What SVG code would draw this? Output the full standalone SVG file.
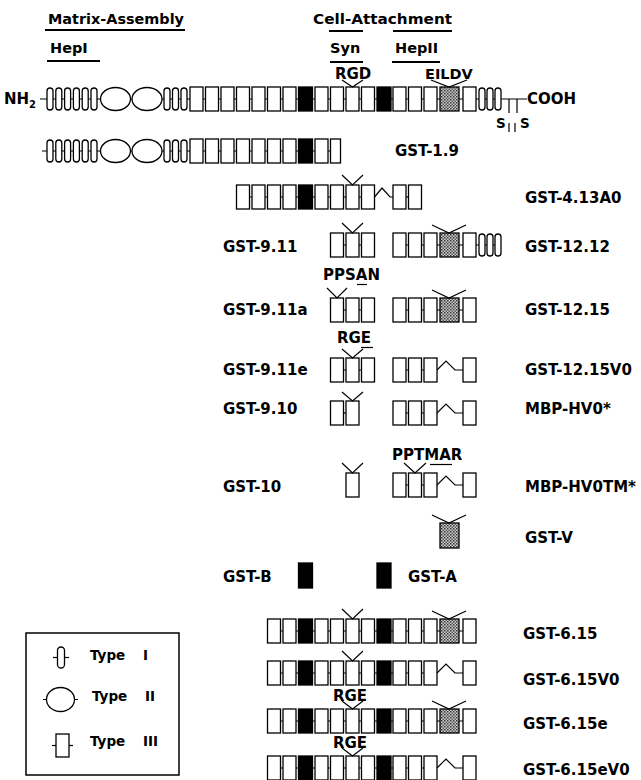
<svg xmlns="http://www.w3.org/2000/svg" width="641" height="780" viewBox="0 0 641 780">
<defs>
<pattern id="dots" width="3" height="3" patternUnits="userSpaceOnUse"><rect width="3" height="3" fill="#cfcfcf"/><rect width="1.5" height="1.5" fill="#333"/><rect x="1.5" y="1.5" width="1.5" height="1.5" fill="#555"/></pattern>
</defs>
<style>
.b{fill:#fff;stroke:#000;stroke-width:1.3}
.k{fill:#000;stroke:#000;stroke-width:1.3}
.g{fill:url(#dots);stroke:#000;stroke-width:1.3}
.ln{fill:none;stroke:#000;stroke-width:1.2}
.ul{fill:none;stroke:#000;stroke-width:2}
.t{font-family:"DejaVu Sans","Liberation Sans",sans-serif;font-weight:bold;font-size:15px;fill:#000}
.h{font-size:14.5px}
.s{font-size:13.5px}
</style>
<rect width="641" height="780" fill="#fff"/>

<g id="headers">
<text class="t h" x="48" y="24" textLength="136" lengthAdjust="spacingAndGlyphs">Matrix-Assembly</text>
<line class="ul" x1="45" y1="30" x2="185" y2="30"/>
<text class="t h" x="50" y="53">HepI</text>
<line class="ul" x1="47" y1="61" x2="100" y2="61"/>
<text class="t h" x="313" y="24" textLength="139" lengthAdjust="spacingAndGlyphs">Cell-Attachment</text>
<line class="ul" x1="329" y1="31" x2="363" y2="31"/>
<line class="ul" x1="393" y1="31" x2="452" y2="31"/>
<text class="t h" x="330" y="53">Syn</text>
<line class="ul" x1="330" y1="62" x2="363" y2="62"/>
<text class="t h" x="395" y="53">HepII</text>
<line class="ul" x1="392" y1="62" x2="440" y2="62"/>
<text class="t" x="335" y="79">RGD</text>
<text class="t h" x="425" y="79">EILDV</text>
</g>

<g id="fn-full">
<text class="t" x="4" y="104">NH<tspan font-size="10" dy="4">2</tspan></text>
<line class="ln" x1="40" y1="99" x2="527" y2="99"/>
<rect class="b" x="47" y="88" width="6" height="22" rx="3"/>
<rect class="b" x="55.8" y="88" width="6" height="22" rx="3"/>
<rect class="b" x="64.6" y="88" width="6" height="22" rx="3"/>
<rect class="b" x="73.4" y="88" width="6" height="22" rx="3"/>
<rect class="b" x="82.2" y="88" width="6" height="22" rx="3"/>
<rect class="b" x="91" y="88" width="6" height="22" rx="3"/>
<ellipse class="b" cx="115.5" cy="99" rx="15" ry="11.5"/>
<ellipse class="b" cx="147" cy="99" rx="15" ry="11.5"/>
<rect class="b" x="164" y="88" width="6" height="22" rx="3"/>
<rect class="b" x="172.5" y="88" width="6" height="22" rx="3"/>
<rect class="b" x="181" y="88" width="6" height="22" rx="3"/>
<rect class="b" x="190" y="87" width="13" height="24"/>
<rect class="b" x="205.5" y="87" width="13" height="24"/>
<rect class="b" x="221" y="87" width="13" height="24"/>
<rect class="b" x="236.5" y="87" width="13" height="24"/>
<rect class="b" x="252" y="87" width="13" height="24"/>
<rect class="b" x="267.5" y="87" width="13" height="24"/>
<rect class="b" x="283" y="87" width="13" height="24"/>
<rect class="k" x="298.5" y="87" width="14" height="24"/>
<rect class="b" x="315" y="87" width="13" height="24"/>
<rect class="b" x="330.5" y="87" width="13" height="24"/>
<rect class="b" x="346" y="87" width="13" height="24"/>
<rect class="b" x="361.5" y="87" width="13" height="24"/>
<rect class="k" x="377" y="87" width="14" height="24"/>
<rect class="b" x="393" y="87" width="13" height="24"/>
<rect class="b" x="408.5" y="87" width="13" height="24"/>
<rect class="b" x="424" y="87" width="13" height="24"/>
<rect class="g" x="440" y="87" width="19" height="24"/>
<rect class="b" x="463" y="87" width="13" height="24"/>
<rect class="b" x="479" y="88" width="6" height="22" rx="3"/>
<rect class="b" x="487" y="88" width="6" height="22" rx="3"/>
<rect class="b" x="495" y="88" width="6" height="22" rx="3"/>
<line class="ln" x1="509" y1="99" x2="509" y2="113"/>
<line class="ln" x1="517" y1="99" x2="517" y2="113"/>
<line class="ln" x1="509" y1="123" x2="509" y2="132"/>
<line class="ln" x1="515" y1="123" x2="515" y2="132"/>
<text class="t s" x="496" y="128">S</text>
<text class="t s" x="520" y="128">S</text>
<text class="t" x="527" y="104">COOH</text>
<polyline class="ln" points="342,80 352.5,87 363,80"/>
<polyline class="ln" points="431,80 449,87 467,80"/>
</g>

<g id="gst-1-9">
<line class="ln" x1="42" y1="151" x2="340" y2="151"/>
<rect class="b" x="47" y="140" width="6" height="22" rx="3"/>
<rect class="b" x="55.8" y="140" width="6" height="22" rx="3"/>
<rect class="b" x="64.6" y="140" width="6" height="22" rx="3"/>
<rect class="b" x="73.4" y="140" width="6" height="22" rx="3"/>
<rect class="b" x="82.2" y="140" width="6" height="22" rx="3"/>
<rect class="b" x="91" y="140" width="6" height="22" rx="3"/>
<ellipse class="b" cx="115.5" cy="151" rx="15" ry="11.5"/>
<ellipse class="b" cx="147" cy="151" rx="15" ry="11.5"/>
<rect class="b" x="164" y="140" width="6" height="22" rx="3"/>
<rect class="b" x="172.5" y="140" width="6" height="22" rx="3"/>
<rect class="b" x="181" y="140" width="6" height="22" rx="3"/>
<rect class="b" x="190" y="139" width="13" height="24"/>
<rect class="b" x="205.5" y="139" width="13" height="24"/>
<rect class="b" x="221" y="139" width="13" height="24"/>
<rect class="b" x="236.5" y="139" width="13" height="24"/>
<rect class="b" x="252" y="139" width="13" height="24"/>
<rect class="b" x="267.5" y="139" width="13" height="24"/>
<rect class="b" x="283" y="139" width="13" height="24"/>
<rect class="k" x="298.5" y="139" width="14" height="24"/>
<rect class="b" x="315" y="139" width="13" height="24"/>
<rect class="b" x="330.5" y="139" width="10" height="24"/>
<text class="t" x="395" y="156">GST-1.9</text>
</g>

<g id="gst-4-13a0">
<line class="ln" x1="237" y1="197" x2="375" y2="197"/>
<line class="ln" x1="393" y1="197" x2="421" y2="197"/>
<polyline class="ln" points="374.5,197 382,188 390,197 393,197"/>
<rect class="b" x="236.5" y="185" width="13" height="24"/>
<rect class="b" x="252" y="185" width="13" height="24"/>
<rect class="b" x="267.5" y="185" width="13" height="24"/>
<rect class="b" x="283" y="185" width="13" height="24"/>
<rect class="k" x="298.5" y="185" width="14" height="24"/>
<rect class="b" x="315" y="185" width="13" height="24"/>
<rect class="b" x="330.5" y="185" width="13" height="24"/>
<rect class="b" x="346" y="185" width="13" height="24"/>
<rect class="b" x="361.5" y="185" width="13" height="24"/>
<rect class="b" x="393" y="185" width="13" height="24"/>
<rect class="b" x="408.5" y="185" width="13" height="24"/>
<polyline class="ln" points="342,175 352.5,185 363,175"/>
<text class="t" x="525" y="203">GST-4.13A0</text>
</g>

<g id="gst-9-11">
<line class="ln" x1="331" y1="245" x2="374" y2="245"/>
<rect class="b" x="330.5" y="233" width="13" height="24"/>
<rect class="b" x="346" y="233" width="13" height="24"/>
<rect class="b" x="361.5" y="233" width="13" height="24"/>
<polyline class="ln" points="342,223 352.5,233 363,223"/>
<text class="t" x="223" y="252">GST-9.11</text>
</g>

<g id="gst-12-12">
<line class="ln" x1="393" y1="245" x2="501" y2="245"/>
<rect class="b" x="393" y="233" width="13" height="24"/>
<rect class="b" x="408.5" y="233" width="13" height="24"/>
<rect class="b" x="424" y="233" width="13" height="24"/>
<rect class="g" x="440" y="233" width="19" height="24"/>
<rect class="b" x="463" y="233" width="13" height="24"/>
<rect class="b" x="479" y="234" width="6" height="22" rx="3"/>
<rect class="b" x="487" y="234" width="6" height="22" rx="3"/>
<rect class="b" x="495" y="234" width="6" height="22" rx="3"/>
<polyline class="ln" points="432,225 449,233 466,225"/>
<text class="t" x="525" y="252">GST-12.12</text>
</g>

<g id="gst-9-11a">
<text class="t" x="323" y="280">PPSAN</text>
<line class="ln" x1="357" y1="284.5" x2="367" y2="284.5"/>
<line class="ln" x1="331" y1="310" x2="374" y2="310"/>
<rect class="b" x="330.5" y="298" width="13" height="24"/>
<rect class="b" x="346" y="298" width="13" height="24"/>
<rect class="b" x="361.5" y="298" width="13" height="24"/>
<polyline class="ln" points="327,288 337,298 347,288"/>
<text class="t" x="223" y="315">GST-9.11a</text>
</g>

<g id="gst-12-15">
<line class="ln" x1="393" y1="310" x2="476" y2="310"/>
<rect class="b" x="393" y="298" width="13" height="24"/>
<rect class="b" x="408.5" y="298" width="13" height="24"/>
<rect class="b" x="424" y="298" width="13" height="24"/>
<rect class="g" x="440" y="298" width="19" height="24"/>
<rect class="b" x="463" y="298" width="13" height="24"/>
<polyline class="ln" points="432,290 449,298 466,290"/>
<text class="t" x="525" y="315">GST-12.15</text>
</g>

<g id="gst-9-11e">
<text class="t" x="337" y="343">RGE</text>
<line class="ln" x1="361" y1="347.5" x2="373" y2="347.5"/>
<line class="ln" x1="331" y1="370" x2="374" y2="370"/>
<rect class="b" x="330.5" y="358" width="13" height="24"/>
<rect class="b" x="346" y="358" width="13" height="24"/>
<rect class="b" x="361.5" y="358" width="13" height="24"/>
<polyline class="ln" points="342,349 352.5,358 363,349"/>
<text class="t" x="223" y="375">GST-9.11e</text>
</g>

<g id="gst-12-15v0">
<line class="ln" x1="393" y1="370" x2="437" y2="370"/>
<polyline class="ln" points="437,370 446,361 455,370 463,370"/>
<rect class="b" x="393" y="358" width="13" height="24"/>
<rect class="b" x="408.5" y="358" width="13" height="24"/>
<rect class="b" x="424" y="358" width="13" height="24"/>
<rect class="b" x="463" y="358" width="13" height="24"/>
<text class="t" x="525" y="375">GST-12.15V0</text>
</g>

<g id="gst-9-10">
<line class="ln" x1="331" y1="413" x2="359" y2="413"/>
<rect class="b" x="330.5" y="401" width="13" height="24"/>
<rect class="b" x="346" y="401" width="13" height="24"/>
<polyline class="ln" points="342,392 352.5,401 363,392"/>
<text class="t" x="223" y="414">GST-9.10</text>
</g>

<g id="mbp-hv0">
<line class="ln" x1="393" y1="413" x2="437" y2="413"/>
<polyline class="ln" points="437,413 446,404 455,413 463,413"/>
<rect class="b" x="393" y="401" width="13" height="24"/>
<rect class="b" x="408.5" y="401" width="13" height="24"/>
<rect class="b" x="424" y="401" width="13" height="24"/>
<rect class="b" x="463" y="401" width="13" height="24"/>
<text class="t" x="525" y="414">MBP-HV0*</text>
</g>

<g id="gst-10">
<rect class="b" x="346" y="473" width="13" height="24"/>
<polyline class="ln" points="342,463 352.5,473 363,463"/>
<text class="t" x="223" y="492">GST-10</text>
</g>

<g id="mbp-hv0tm">
<text class="t" x="392" y="460">PPTMAR</text>
<line class="ln" x1="430" y1="464.5" x2="452" y2="464.5"/>
<line class="ln" x1="393" y1="485" x2="437" y2="485"/>
<polyline class="ln" points="437,485 446,476 455,485 463,485"/>
<rect class="b" x="393" y="473" width="13" height="24"/>
<rect class="b" x="408.5" y="473" width="13" height="24"/>
<rect class="b" x="424" y="473" width="13" height="24"/>
<rect class="b" x="463" y="473" width="13" height="24"/>
<polyline class="ln" points="404,463 415,473 426,463"/>
<text class="t" x="525" y="492">MBP-HV0TM*</text>
</g>

<g id="gst-v">
<rect class="g" x="440" y="523" width="19" height="25"/>
<polyline class="ln" points="432,515 449,523 466,515"/>
<text class="t" x="525" y="543">GST-V</text>
</g>

<g id="gst-b">
<rect class="k" x="298.5" y="563" width="14" height="25"/>
<text class="t" x="223" y="582">GST-B</text>
</g>

<g id="gst-a">
<rect class="k" x="377" y="563" width="14" height="25"/>
<text class="t" x="408" y="582">GST-A</text>
</g>

<g id="gst-6-15">
<line class="ln" x1="268" y1="631" x2="476" y2="631"/>
<rect class="b" x="267.5" y="619" width="13" height="24"/>
<rect class="b" x="283" y="619" width="13" height="24"/>
<rect class="k" x="298.5" y="619" width="14" height="24"/>
<rect class="b" x="315" y="619" width="13" height="24"/>
<rect class="b" x="330.5" y="619" width="13" height="24"/>
<rect class="b" x="346" y="619" width="13" height="24"/>
<rect class="b" x="361.5" y="619" width="13" height="24"/>
<rect class="k" x="377" y="619" width="14" height="24"/>
<rect class="b" x="393" y="619" width="13" height="24"/>
<rect class="b" x="408.5" y="619" width="13" height="24"/>
<rect class="b" x="424" y="619" width="13" height="24"/>
<rect class="g" x="440" y="619" width="19" height="24"/>
<rect class="b" x="463" y="619" width="13" height="24"/>
<polyline class="ln" points="342,609 352.5,619 363,609"/>
<polyline class="ln" points="432,611 449,619 466,611"/>
<text class="t" x="523" y="639">GST-6.15</text>
</g>

<g id="gst-6-15v0">
<line class="ln" x1="268" y1="673" x2="437" y2="673"/>
<polyline class="ln" points="437,673 446,664 455,673 463,673"/>
<rect class="b" x="267.5" y="661" width="13" height="24"/>
<rect class="b" x="283" y="661" width="13" height="24"/>
<rect class="k" x="298.5" y="661" width="14" height="24"/>
<rect class="b" x="315" y="661" width="13" height="24"/>
<rect class="b" x="330.5" y="661" width="13" height="24"/>
<rect class="b" x="346" y="661" width="13" height="24"/>
<rect class="b" x="361.5" y="661" width="13" height="24"/>
<rect class="k" x="377" y="661" width="14" height="24"/>
<rect class="b" x="393" y="661" width="13" height="24"/>
<rect class="b" x="408.5" y="661" width="13" height="24"/>
<rect class="b" x="424" y="661" width="13" height="24"/>
<rect class="b" x="463" y="661" width="13" height="24"/>
<polyline class="ln" points="342,651 352.5,661 363,651"/>
<text class="t" x="523" y="685">GST-6.15V0</text>
</g>

<g id="gst-6-15e">
<text class="t" x="333" y="701">RGE</text>
<line class="ln" x1="268" y1="721" x2="476" y2="721"/>
<rect class="b" x="267.5" y="709" width="13" height="24"/>
<rect class="b" x="283" y="709" width="13" height="24"/>
<rect class="k" x="298.5" y="709" width="14" height="24"/>
<rect class="b" x="315" y="709" width="13" height="24"/>
<rect class="b" x="330.5" y="709" width="13" height="24"/>
<rect class="b" x="346" y="709" width="13" height="24"/>
<rect class="b" x="361.5" y="709" width="13" height="24"/>
<rect class="k" x="377" y="709" width="14" height="24"/>
<rect class="b" x="393" y="709" width="13" height="24"/>
<rect class="b" x="408.5" y="709" width="13" height="24"/>
<rect class="b" x="424" y="709" width="13" height="24"/>
<rect class="g" x="440" y="709" width="19" height="24"/>
<rect class="b" x="463" y="709" width="13" height="24"/>
<polyline class="ln" points="342,701 352.5,709 363,701"/>
<polyline class="ln" points="432,701 449,709 466,701"/>
<text class="t" x="523" y="729">GST-6.15e</text>
</g>

<g id="gst-6-15ev0">
<text class="t" x="333" y="748">RGE</text>
<line class="ln" x1="268" y1="768" x2="437" y2="768"/>
<polyline class="ln" points="437,768 446,759 455,768 463,768"/>
<rect class="b" x="267.5" y="756" width="13" height="24"/>
<rect class="b" x="283" y="756" width="13" height="24"/>
<rect class="k" x="298.5" y="756" width="14" height="24"/>
<rect class="b" x="315" y="756" width="13" height="24"/>
<rect class="b" x="330.5" y="756" width="13" height="24"/>
<rect class="b" x="346" y="756" width="13" height="24"/>
<rect class="b" x="361.5" y="756" width="13" height="24"/>
<rect class="k" x="377" y="756" width="14" height="24"/>
<rect class="b" x="393" y="756" width="13" height="24"/>
<rect class="b" x="408.5" y="756" width="13" height="24"/>
<rect class="b" x="424" y="756" width="13" height="24"/>
<rect class="b" x="463" y="756" width="13" height="24"/>
<polyline class="ln" points="342,748 352.5,756 363,748"/>
<text class="t" x="523" y="775">GST-6.15eV0</text>
</g>

<g id="legend">
<rect x="26" y="633" width="153" height="142" fill="none" stroke="#000" stroke-width="1.5"/>
<line class="ln" x1="53" y1="657.5" x2="69" y2="657.5"/>
<rect class="b" x="57.5" y="647" width="7" height="21" rx="3.5"/>
<text class="t s" x="90" y="660">Type</text>
<text class="t s" x="143" y="660">I</text>
<line class="ln" x1="43" y1="699.5" x2="78" y2="699.5"/>
<ellipse class="b" cx="60.5" cy="699.5" rx="14" ry="12"/>
<text class="t s" x="92" y="701">Type</text>
<text class="t s" x="145" y="701">II</text>
<line class="ln" x1="52" y1="745.5" x2="73" y2="745.5"/>
<rect class="b" x="56" y="734" width="13" height="23"/>
<text class="t s" x="90" y="746">Type</text>
<text class="t s" x="143" y="746">III</text>
</g>
</svg>
